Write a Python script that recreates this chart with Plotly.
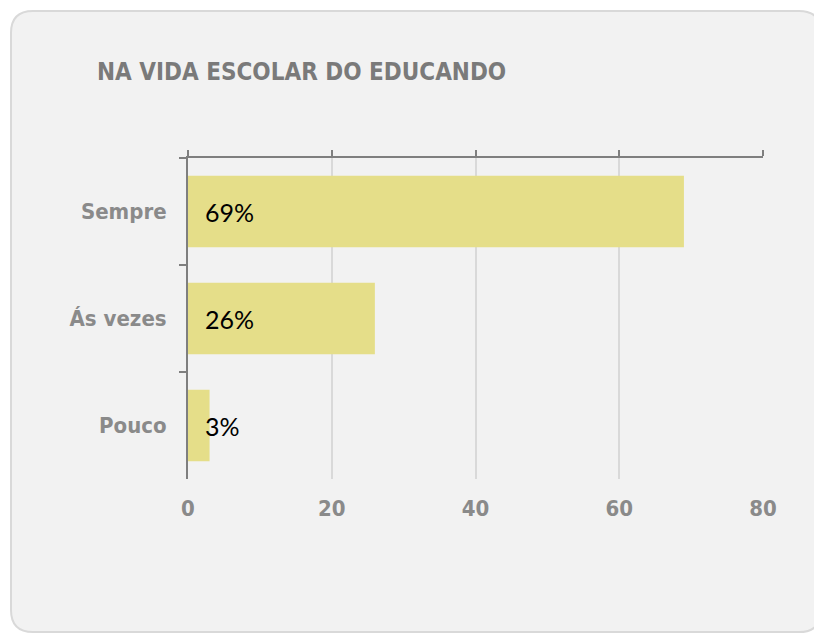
import plotly.graph_objects as go

categories = ["Sempre", "Ás vezes", "Pouco"]
values = [69, 26, 3]
x_ticks = [0, 20, 40, 60, 80]
title_text = "NA VIDA ESCOLAR DO EDUCANDO"

# page has an 8px body margin; figure coordinates are page coordinates minus 8
W, H = 814, 625
L, R, T, B = 180, 755, 150, 471

def px(X):
    return (X - L) / (R - L)

def py(Y):
    return (B - Y) / (B - T)

BAR = "#E5DE89"
AX = "#7F7F7F"
GRID = "#D9D9D9"
TXT = "#8A8A8A"
TITLE_FONT = "DejaVu Sans Condensed"

fig = go.Figure()
fig.add_trace(go.Bar(
    x=values, y=categories, orientation="h",
    marker=dict(color=BAR, line=dict(width=0)),
    hoverinfo="skip", showlegend=False,
))
fig.add_trace(go.Scatter(
    x=[x_ticks[0]], y=[categories[0]], xaxis="x2", mode="markers",
    marker=dict(opacity=0), hoverinfo="skip", showlegend=False,
))

for c, v in zip(categories, values):
    fig.add_annotation(
        x=0, y=c, xref="x", yref="y", text=f"{v}%", showarrow=False,
        xanchor="left", yanchor="middle", xshift=15, yshift=0,
        font=dict(family="Lato", size=25, color="#000000"),
    )

# rounded card
x0, y0, x1, y1, r = 3, 3, 813, 624, 22
path = (
    f"M {px(x0 + r)} {py(y0)} L {px(x1 - r)} {py(y0)} "
    f"Q {px(x1)} {py(y0)} {px(x1)} {py(y0 + r)} "
    f"L {px(x1)} {py(y1 - r)} Q {px(x1)} {py(y1)} {px(x1 - r)} {py(y1)} "
    f"L {px(x0 + r)} {py(y1)} Q {px(x0)} {py(y1)} {px(x0)} {py(y1 - r)} "
    f"L {px(x0)} {py(y0 + r)} Q {px(x0)} {py(y0)} {px(x0 + r)} {py(y0)} Z"
)
fig.add_shape(type="path", path=path, xref="paper", yref="paper",
              fillcolor="#F2F2F2", line=dict(color="#D9D9D9", width=2),
              layer="below")

fig.update_layout(
    width=W, height=H, autosize=False,
    margin=dict(l=L, r=W - R, t=T, b=H - B, pad=0),
    paper_bgcolor="#FFFFFF", plot_bgcolor="rgba(0,0,0,0)",
    bargap=0.33,
    title=dict(text=f"<b>{title_text}</b>", x=89 / W, xanchor="left",
               y=1 - 64 / H, yanchor="middle", xref="container",
               font=dict(family=TITLE_FONT, size=24, color="#7A7A7A")),
    xaxis=dict(range=[0, 80], tickvals=x_ticks, showgrid=True, gridcolor=GRID,
               gridwidth=1.5, zeroline=False, showline=False, side="bottom",
               ticks="outside", ticklen=10, tickcolor="rgba(0,0,0,0)",
               tickfont=dict(family=TITLE_FONT, size=22, color=TXT, weight="bold"),
               fixedrange=True),
    xaxis2=dict(range=[0, 80], tickvals=x_ticks, overlaying="x", side="top",
                showline=True, linecolor=AX, linewidth=2, ticks="outside",
                ticklen=6, tickwidth=2, tickcolor=AX, showticklabels=False,
                showgrid=False, zeroline=False),
    yaxis=dict(type="category", categoryorder="array", categoryarray=categories,
               autorange="reversed", showline=True, linecolor=AX, linewidth=2,
               ticks="outside", tickson="boundaries", ticklen=7, tickwidth=2,
               tickcolor=AX, showgrid=False, zeroline=False, ticklabelstandoff=15,
               tickfont=dict(family=TITLE_FONT, size=22, color=TXT, weight="bold")),
)

fig.write_html("out.html")
